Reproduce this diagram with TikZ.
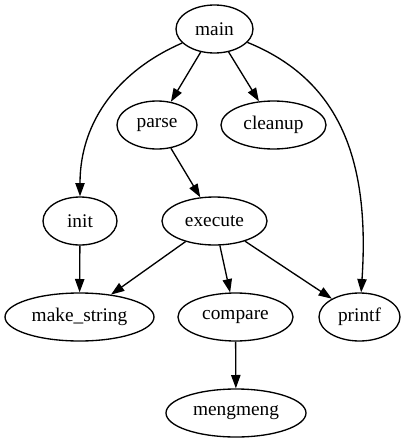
\documentclass[tikz,border=0pt]{standalone}
\usepackage{fontspec}
\setmainfont{Liberation Serif}
\usepackage{tikz}
\usetikzlibrary{shapes}
\usetikzlibrary{arrows.meta}
\tikzset{
    fnode/.style = {ellipse, draw=black, line width=1pt, inner sep=0pt, minimum height=36pt, font=\fontsize{14.5pt}{16pt}\selectfont},
    edgen/.style = {-{Triangle[length=10pt,width=7pt]}, line width=1pt},
}
\begin{document}
\begin{tikzpicture}[x=0.75pt,y=-0.75pt]
\useasboundingbox (0,0) rectangle (405,443);
\node[fnode,minimum width=57.75pt] at (214.5,29) (main) {main};
\node[fnode,minimum width=60pt] at (157,125) (parse) {parse};
\node[fnode,minimum width=78.75pt] at (273.5,125) (cleanup) {cleanup};
\node[fnode,minimum width=55.5pt] at (80,221) (init) {init};
\node[fnode,minimum width=78.75pt] at (214.5,221) (execute) {execute};
\node[fnode,minimum width=111.75pt] at (79.5,317) (mkstr) {make\_string};
\node[fnode,minimum width=86.25pt] at (235.5,317) (compare) {compare};
\node[fnode,minimum width=60.75pt] at (359.5,317) (printf) {printf};
\node[fnode,minimum width=105pt] at (236,413) (meng) {mengmeng};
%
\draw[edgen] (main) .. controls (120,70) and (80,120) .. (init);
\draw[edgen] (main) -- (parse);
\draw[edgen] (main) -- (cleanup);
\draw[edgen] (main) .. controls (340,80) and (370,160) .. (printf);
\draw[edgen] (parse) -- (execute);
\draw[edgen] (init) -- (mkstr);
\draw[edgen] (execute) -- (mkstr);
\draw[edgen] (execute) -- (compare);
\draw[edgen] (execute) -- (printf);
\draw[edgen] (compare) -- (meng);
\end{tikzpicture}
\end{document}
